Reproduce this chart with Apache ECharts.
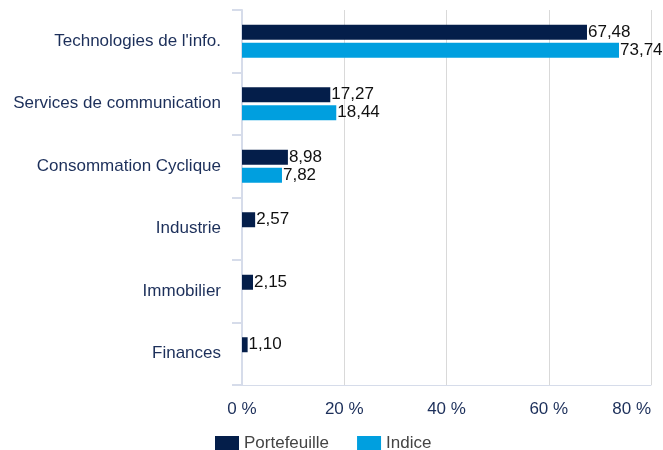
<!DOCTYPE html>
<html>
<head>
<meta charset="utf-8">
<script src="https://cdn.jsdelivr.net/npm/echarts@6/dist/echarts.min.js"></script>
<style>
  html, body { margin: 0; padding: 0; background: #fff; }
  #chart { width: 663px; height: 450px; }
</style>
</head>
<body>
<div id="chart"></div>
<script>
var categories = ['Technologies de l\'info.', 'Services de communication', 'Consommation Cyclique', 'Industrie', 'Immobilier', 'Finances'];
var portefeuille = [67.48, 17.27, 8.98, 2.57, 2.15, 1.10];
var indice = [73.74, 18.44, 7.82, null, null, null];
var xTicks = [0, 20, 40, 60, 80];

function fmt(p) {
  return p.value.toFixed(2).replace('.', ',');
}

var labelStyle = {
  show: true,
  position: 'right',
  distance: 1,
  color: '#111',
  fontSize: 17,
  fontFamily: 'Liberation Sans',
  formatter: fmt
};

var option = {
  animation: false,
  textStyle: { fontFamily: 'Liberation Sans' },
  grid: { left: 242, right: 12, top: 10, bottom: 65, containLabel: false, outerBoundsMode: 'none' },
  legend: {
    top: 430,
    left: 210,
    icon: 'rect',
    itemWidth: 24,
    itemHeight: 15,
    itemGap: 28,
    textStyle: { color: '#444', fontSize: 17, fontFamily: 'Liberation Sans' },
    data: ['Portefeuille', 'Indice']
  },
  xAxis: {
    type: 'value',
    min: xTicks[0],
    max: xTicks[xTicks.length - 1],
    interval: 20,
    axisLine: { show: true, lineStyle: { color: '#d6dcea' } },
    axisTick: { show: false },
    splitLine: { lineStyle: { color: '#d9d9d9' } },
    axisLabel: {
      color: '#1c2f5a',
      fontSize: 17,
      margin: 16,
      alignMaxLabel: 'right',
      formatter: function (v) { return v + ' %'; }
    }
  },
  yAxis: {
    type: 'category',
    inverse: true,
    data: categories,
    axisLine: { show: true, lineStyle: { color: '#d6dcea', width: 2 } },
    axisTick: { show: true, length: 10, lineStyle: { color: '#d6dcea', width: 2 } },
    axisLabel: { color: '#1c2f5a', fontSize: 17, margin: 21 }
  },
  series: [
    {
      name: 'Portefeuille',
      type: 'bar',
      data: portefeuille,
      barWidth: 15,
      barGap: '20%',
      itemStyle: { color: '#041e4a' },
      label: labelStyle
    },
    {
      name: 'Indice',
      type: 'bar',
      data: indice,
      barWidth: 15,
      barGap: '20%',
      itemStyle: { color: '#009fdf' },
      label: labelStyle
    }
  ]
};

var myChart = echarts.init(document.getElementById('chart'));
myChart.setOption(option);
</script>
</body>
</html>
